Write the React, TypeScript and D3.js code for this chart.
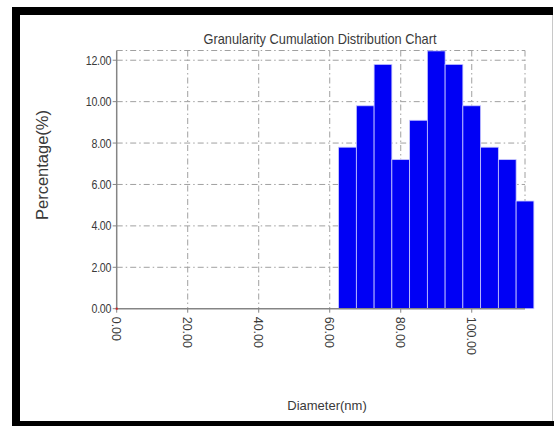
import React from "react";
import * as d3 from "d3";

const binCenters = [65, 70, 75, 80, 85, 90, 95, 100, 105, 110, 115];
const percentages = [7.8, 9.8, 11.8, 7.2, 9.1, 12.45, 11.8, 9.8, 7.8, 7.2, 5.2];
const binWidth = 5;
const xTickValues = [0, 20, 40, 60, 80, 100];
const yTickValues = [0, 2, 4, 6, 8, 10, 12];
const title = "Granularity Cumulation Distribution  Chart";
const xLabel = "Diameter(nm)";
const yLabel = "Percentage(%)";

const W = 554;
const H = 426;
const SANS = "'Liberation Sans', Arial, sans-serif";

export default function App() {
  const x = d3.scaleLinear().domain([0, 115]).range([116.7, 525]);
  const y = d3.scaleLinear().domain([0, 12.47]).range([308.7, 50.5]);
  const fmt = d3.format(".2f");
  const gridDash = "6,3,1.5,3";
  const gridColor = "#a0a0a0";
  const [x0, x1] = x.range();
  const [yb, yt] = y.range();

  return (
    <svg width={W} height={H} style={{ position: "absolute", left: 0, top: 0, background: "#fff" }}>
      <rect x={0} y={0} width={W} height={H} fill="#fff" />
      {/* frame */}
      <rect x={12} y={7} width={541} height={8} fill="#000" />
      <rect x={12} y={7} width={8} height={419} fill="#000" />
      <rect x={12} y={421} width={542} height={5} fill="#000" />
      <line x1={552.5} y1={15} x2={552.5} y2={421} stroke="#c8c8c8" strokeWidth={1} />

      {/* title */}
      <text x={320} y={44} textAnchor="middle" fontFamily={SANS} fontSize={14.5} fill="#3a3a3a"
        textLength={233} lengthAdjust="spacingAndGlyphs">{title}</text>

      {/* grid */}
      {yTickValues.filter((v) => v > 0).map((v) => (
        <line key={"gy" + v} x1={x0} x2={x1} y1={y(v)} y2={y(v)} stroke={gridColor} strokeDasharray={gridDash} />
      ))}
      <line x1={x0} x2={x1} y1={yt} y2={yt} stroke={gridColor} strokeDasharray={gridDash} />
      {xTickValues.filter((v) => v > 0).map((v) => (
        <line key={"gx" + v} x1={x(v)} x2={x(v)} y1={yt} y2={yb} stroke={gridColor} strokeDasharray={gridDash} />
      ))}
      <line x1={x1} x2={x1} y1={yt} y2={yb} stroke={gridColor} strokeDasharray={gridDash} />

      {/* bars */}
      {binCenters.map((c, i) => (
        <rect key={"b" + i} x={x(c - binWidth / 2)} y={y(percentages[i])}
          width={x(c + binWidth / 2) - x(c - binWidth / 2)} height={yb - y(percentages[i])}
          fill="#0000f5" stroke="#c8c8ff" strokeWidth={0.8} />
      ))}

      {/* axes */}
      <line x1={x0} x2={x0} y1={yt} y2={yb} stroke="#858585" strokeWidth={1.5} />
      <line x1={x0} x2={x1} y1={yb} y2={yb} stroke="#858585" strokeWidth={1.5} />
      {yTickValues.map((v) => (
        <g key={"yt" + v}>
          <line x1={x0 - 4} x2={x0} y1={y(v)} y2={y(v)} stroke="#858585" strokeWidth={1} />
          <text transform={`translate(${x0 - 5.5},${y(v)}) scale(0.82,1)`} dy="0.35em" textAnchor="end"
            fontFamily={SANS} fontSize={13} fill="#3a3a3a" letterSpacing={-0.3}>{fmt(v)}</text>
        </g>
      ))}
      {xTickValues.map((v) => (
        <g key={"xt" + v}>
          <line x1={x(v)} x2={x(v)} y1={yb} y2={yb + 4} stroke="#858585" strokeWidth={1} />
          <text transform={`translate(${x(v)},${yb + 8}) rotate(90)`} dy="0.35em" textAnchor="start"
            fontFamily={SANS} fontSize={12.5} fill="#3a3a3a">{fmt(v)}</text>
        </g>
      ))}
      <rect x={x0 - 1} y={yb - 1} width={2} height={2} fill="#d02020" />

      {/* axis labels */}
      <text x={327} y={410} textAnchor="middle" fontFamily={SANS} fontSize={13} fill="#3a3a3a">{xLabel}</text>
      <text transform={`translate(48,165) rotate(-90)`} textAnchor="middle" fontFamily={SANS} fontSize={16.5}
        fill="#3a3a3a">{yLabel}</text>
    </svg>
  );
}
